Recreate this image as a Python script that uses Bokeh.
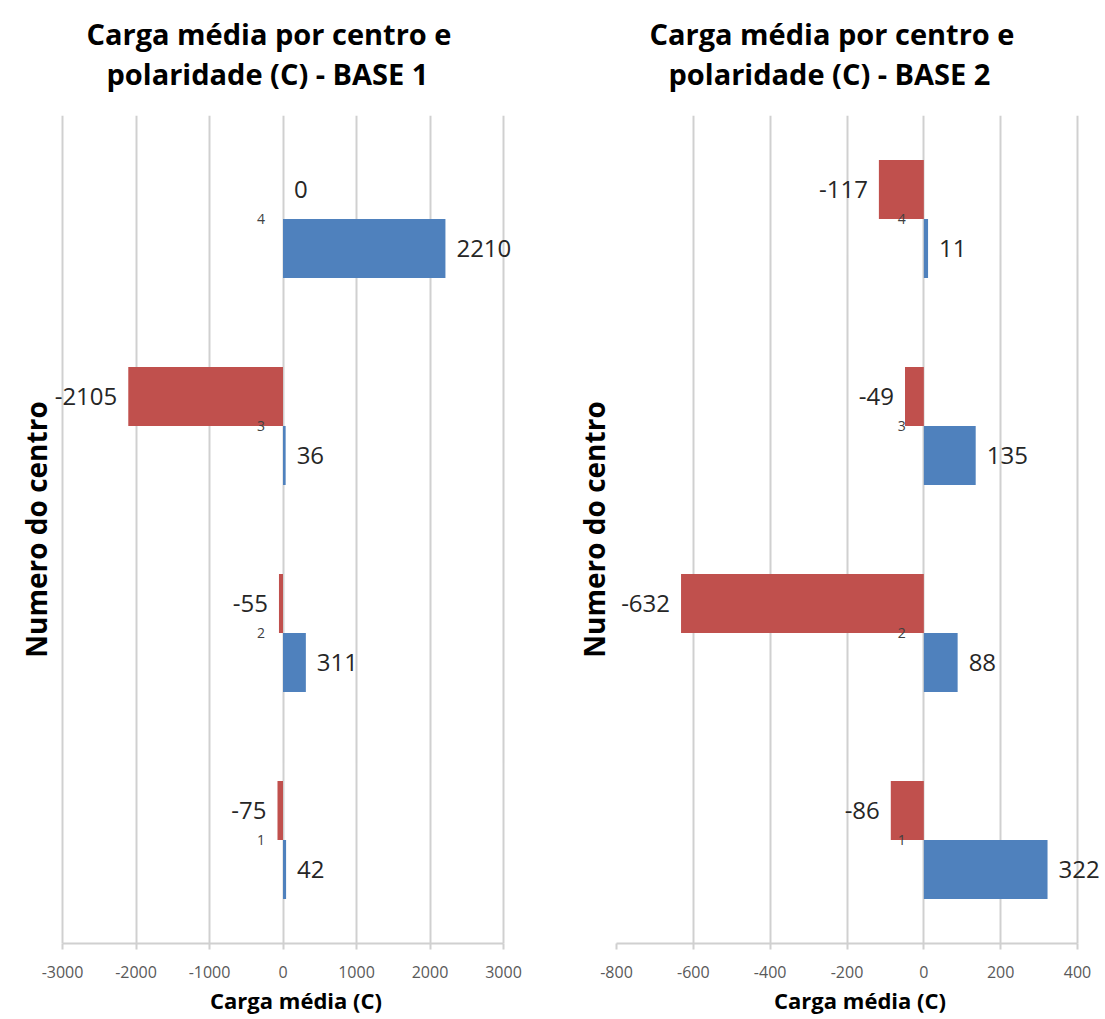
from bokeh.plotting import figure
from bokeh.models import ColumnDataSource, FixedTicker, Title, Range1d, LabelSet
from bokeh.layouts import row
from bokeh.transform import dodge
from bokeh.core.properties import value
from bokeh.embed import file_html
from bokeh.resources import INLINE

# ---- data ----
centros = [1, 2, 3, 4]
base1_neg = [-75, -55, -2105, 0]
base1_pos = [42, 311, 36, 2210]
base2_neg = [-86, -632, -49, -117]
base2_pos = [322, 88, 135, 11]
base1_ticks = [-3000, -2000, -1000, 0, 1000, 2000, 3000]
base2_ticks = [-800, -600, -400, -200, 0, 200, 400]
titles1 = ["Carga média por centro e", "polaridade (C) - BASE 1"]
titles2 = ["Carga média por centro e", "polaridade (C) - BASE 2"]
x_label = "Carga média (C)"
y_label = "Numero do centro"

RED = "#C0504D"
BLUE = "#4F81BD"
FONT = "Open Sans"
GRID = "#D0D0D0"
BAR_H = 0.285


def make(neg, pos, ticks, tlines, axis_px, pad_l, pad_r, bl, t_off1, t_off2, ylab_standoff):
    # axis_px: pixel length between first and last tick; pads: extra frame pixels
    span = ticks[-1] - ticks[0]
    upp = span / axis_px
    x0 = ticks[0] - pad_l * upp
    x1 = ticks[-1] + pad_r * upp
    width = bl + pad_l + axis_px + pad_r
    p = figure(width=width, height=1017, output_backend="svg", toolbar_location=None,
               x_range=Range1d(x0, x1), y_range=Range1d(0.5, 4.5),
               min_border_left=bl, min_border_right=0, min_border_top=115,
               min_border_bottom=69, title=None)
    p.outline_line_color = None
    p.background_fill_color = "white"
    p.border_fill_color = "white"

    src = ColumnDataSource(dict(
        cat=centros, neg=neg, pos=pos,
        neg_txt=[str(v) for v in neg], pos_txt=[str(v) for v in pos],
        neg_align=["left" if v >= 0 else "right" for v in neg],
        pos_align=["left" if v >= 0 else "right" for v in pos],
        neg_off=[11 if v >= 0 else -11 for v in neg],
        pos_off=[11 if v >= 0 else -11 for v in pos],
        lab=[str(c) for c in centros],
    ))

    p.hbar(y=dodge("cat", BAR_H / 2), height=BAR_H, left=0, right="neg", source=src,
           fill_color=RED, line_color=None)
    p.hbar(y=dodge("cat", -BAR_H / 2), height=BAR_H, left=0, right="pos", source=src,
           fill_color=BLUE, line_color=None)

    p.add_layout(LabelSet(x="neg", y=dodge("cat", BAR_H / 2), text="neg_txt", source=src,
                          x_offset="neg_off", text_align="neg_align", text_baseline="middle",
                          text_font=value(FONT), text_font_size="24px", text_color="#262626"))
    p.add_layout(LabelSet(x="pos", y=dodge("cat", -BAR_H / 2), text="pos_txt", source=src,
                          x_offset="pos_off", text_align="pos_align", text_baseline="middle",
                          text_font=value(FONT), text_font_size="24px", text_color="#262626"))
    # category labels next to zero axis
    p.add_layout(LabelSet(x=0, y="cat", text="lab", source=src, x_offset=-18,
                          text_align="right", text_baseline="middle",
                          text_font=value(FONT), text_font_size="14px", text_color="#404040"))

    # x axis
    p.xaxis.ticker = FixedTicker(ticks=ticks)
    p.xaxis.bounds = (ticks[0], ticks[-1])
    p.xaxis.major_label_overrides = {t: str(t) for t in ticks}
    p.xaxis.axis_line_color = GRID
    p.xaxis.axis_line_width = 2
    p.xaxis.major_tick_line_color = GRID
    p.xaxis.major_tick_line_width = 2
    p.xaxis.major_tick_out = 6
    p.xaxis.major_tick_in = 0
    p.xaxis.minor_tick_line_color = None
    p.xaxis.major_label_text_font = FONT
    p.xaxis.major_label_text_font_size = "16px"
    p.xaxis.major_label_text_color = "#595959"
    p.xaxis.major_label_standoff = 16
    p.xaxis.axis_label = x_label
    p.xaxis.axis_label_text_font = FONT
    p.xaxis.axis_label_text_font_size = "22px"
    p.xaxis.axis_label_text_font_style = "bold"
    p.xaxis.axis_label_text_color = "#000000"
    p.xaxis.axis_label_standoff = 4

    # y axis: label only
    p.yaxis.ticker = FixedTicker(ticks=[])
    p.yaxis.axis_line_color = None
    p.yaxis.major_tick_line_color = None
    p.yaxis.minor_tick_line_color = None
    p.yaxis.axis_label = y_label
    p.yaxis.axis_label_text_font = FONT
    p.yaxis.axis_label_text_font_size = "28px"
    p.yaxis.axis_label_text_font_style = "bold"
    p.yaxis.axis_label_text_color = "#000000"
    p.yaxis.axis_label_standoff = ylab_standoff

    p.xgrid.ticker = FixedTicker(ticks=ticks)
    p.xgrid.grid_line_color = GRID
    p.xgrid.grid_line_width = 2
    p.ygrid.grid_line_color = None

    # two-line title: first added sits nearest the plot
    p.add_layout(Title(text=tlines[1], align="left", text_font=FONT, text_font_size="29px",
                       text_font_style="bold", text_color="#000000", offset=t_off2,
                       standoff=46), "above")
    p.add_layout(Title(text=tlines[0], align="left", text_font=FONT, text_font_size="29px",
                       text_font_style="bold", text_color="#000000", offset=t_off1,
                       standoff=-48), "above")
    return p


p1 = make(base1_neg, base1_pos, base1_ticks, titles1, 441, 17, 43, 45, 41, 61, -9)
p2 = make(base2_neg, base2_pos, base2_ticks, titles2, 461, 0, 26, 70, 33, 52, 4)

layout = row(p1, p2)
open("out.html", "w").write(file_html(layout, INLINE))
